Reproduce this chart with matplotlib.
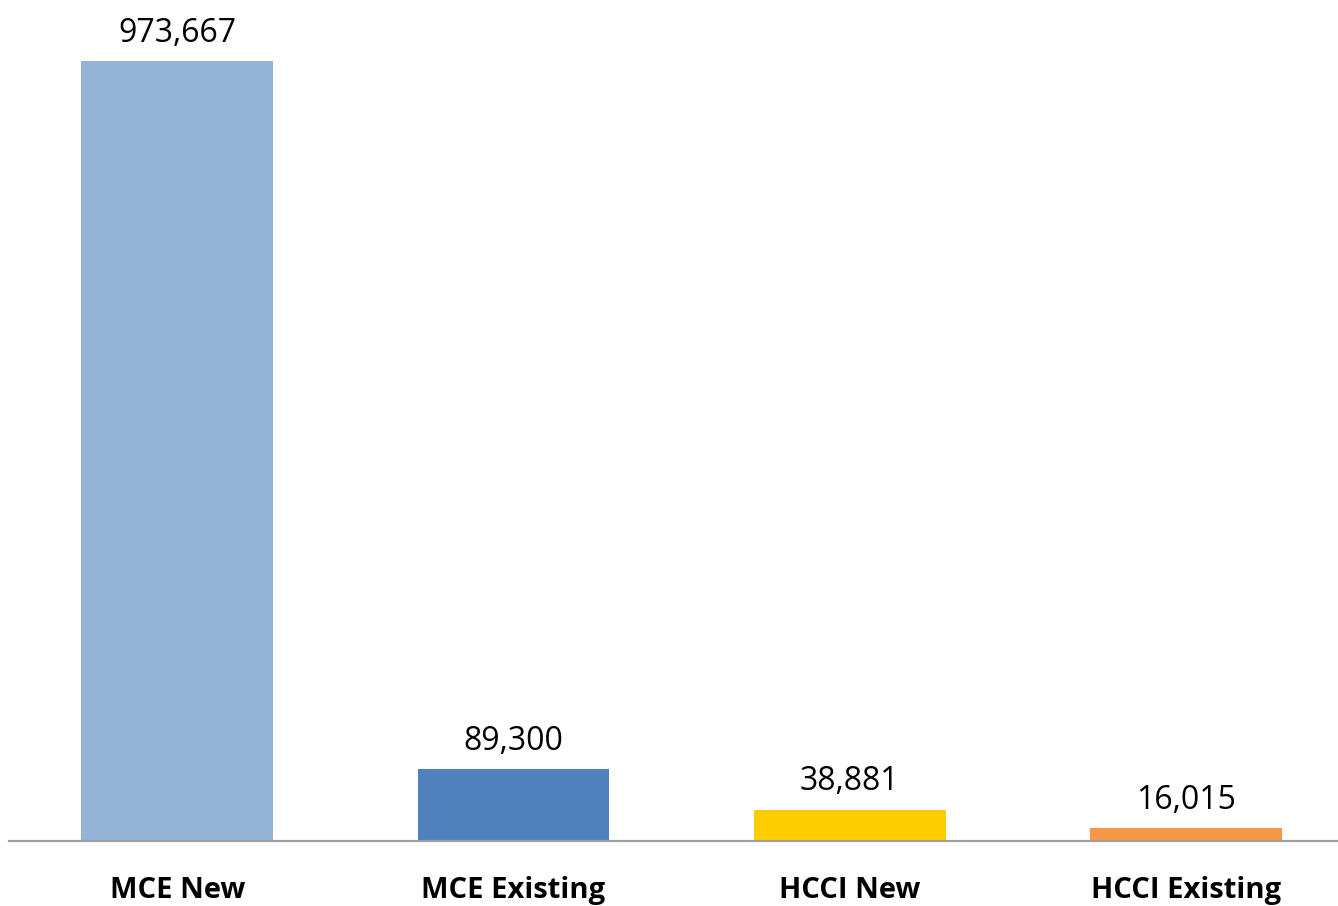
import matplotlib.pyplot as plt

# data
categories = ['MCE New', 'MCE Existing', 'HCCI New', 'HCCI Existing']
values = [973667, 89300, 38881, 16015]
colors = ['#95B3D7', '#4F81BD', '#FFCC00', '#F79646']

plt.rcParams['font.family'] = ['Open Sans', 'DejaVu Sans']

fig = plt.figure(figsize=(13.38, 9.06), dpi=100)
# baseline sits at pixel row 841 of 906
ax = fig.add_axes([9 / 1338, 65 / 906, 1 - 9 / 1338, 841 / 906])

x = range(len(categories))
ax.bar(x, values, width=0.57, color=colors, zorder=2)

ax.set_xlim(-0.5, 3.452)
ax.set_ylim(0, values[0] * 841 / 780)

for i, v in enumerate(values):
    ax.annotate(f'{v:,}', xy=(i, v), xytext=(0, 14), textcoords='offset points',
                ha='center', va='baseline', fontsize=23, color='#000000')
    ax.annotate(categories[i], xy=(i, 0), xycoords=('data', 'axes fraction'),
                xytext=(0, -41), textcoords='offset points',
                ha='center', va='baseline', fontsize=21, fontweight='bold')

for s in ['top', 'right', 'left']:
    ax.spines[s].set_visible(False)
ax.spines['bottom'].set_color('#A0A0A0')
ax.spines['bottom'].set_linewidth(1.6)
ax.set_xticks([])
ax.set_yticks([])

fig.savefig('out.png', dpi=100)
